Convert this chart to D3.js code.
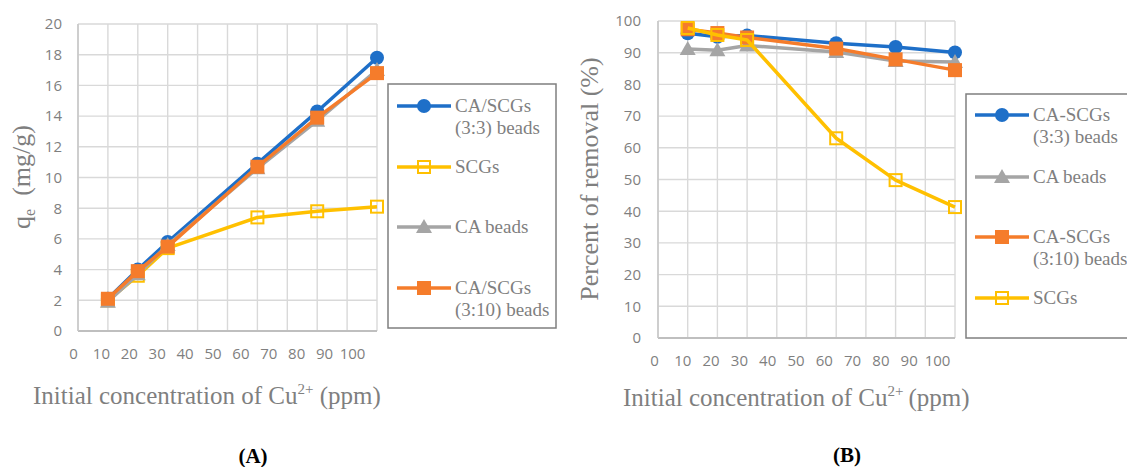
<!DOCTYPE html>
<html>
<head>
<meta charset="utf-8">
<script src="https://cdn.jsdelivr.net/npm/d3@7"></script>
<style>
  body { margin: 0; background: #fff; }
  svg { display: block; }
</style>
</head>
<body>
<svg id="chart" width="1127" height="467"></svg>
<script>
// concentrations (ppm)
var conc = [10, 20, 30, 60, 80, 100];
var xTicks = [0, 10, 20, 30, 40, 50, 60, 70, 80, 90, 100];

// panel A : qe (mg/g)
var qeCA_SCG33 = [2.1, 4.0, 5.8, 10.9, 14.3, 17.8];
var qeSCG = [2.0, 3.6, 5.4, 7.4, 7.8, 8.1];
var qeCA = [1.9, 3.7, 5.6, 10.6, 13.7, 17.0];
var qeCA_SCG310 = [2.1, 3.9, 5.5, 10.7, 13.9, 16.8];
var qeTicks = [0, 2, 4, 6, 8, 10, 12, 14, 16, 18, 20];

// panel B : percent of removal
var remCA_SCG33 = [96.1, 95.0, 95.4, 93.0, 91.8, 90.1];
var remCA = [91.2, 90.8, 92.3, 90.2, 87.4, 87.1];
var remCA_SCG310 = [97.4, 96.2, 94.8, 91.3, 87.9, 84.5];
var remSCG = [97.8, 95.6, 94.0, 63.0, 49.8, 41.3];
var remTicks = [0, 10, 20, 30, 40, 50, 60, 70, 80, 90, 100];

var colors = { blue: '#1e6fc8', yellow: '#ffc000', gray: '#a5a5a5', orange: '#f57c2b' };

var svg = d3.select('#chart');
var serif = "'Liberation Serif', 'Times New Roman', serif";
var sans = "'Open Sans', 'Noto Sans', sans-serif";

var seriesA = [
    { name: ['CA/SCGs', '(3:3) beads'], values: qeCA_SCG33, color: colors.blue, marker: 'circle' },
    { name: ['SCGs'], values: qeSCG, color: colors.yellow, marker: 'open' },
    { name: ['CA beads'], values: qeCA, color: colors.gray, marker: 'triangle' },
    { name: ['CA/SCGs', '(3:10) beads'], values: qeCA_SCG310, color: colors.orange, marker: 'square' }
];
var seriesB = [
    { name: ['CA-SCGs', '(3:3) beads'], values: remCA_SCG33, color: colors.blue, marker: 'circle' },
    { name: ['CA beads'], values: remCA, color: colors.gray, marker: 'triangle' },
    { name: ['CA-SCGs', '(3:10) beads'], values: remCA_SCG310, color: colors.orange, marker: 'square' },
    { name: ['SCGs'], values: remSCG, color: colors.yellow, marker: 'open' }
];

function drawMarker(g, type, cx, cy, color) {
    if (type === 'circle') {
        g.append('circle').attr('cx', cx).attr('cy', cy).attr('r', 7).attr('fill', color);
    } else if (type === 'square') {
        g.append('rect').attr('x', cx - 7).attr('y', cy - 7).attr('width', 14).attr('height', 14).attr('fill', color);
    } else if (type === 'triangle') {
        g.append('path').attr('d', 'M' + cx + ',' + (cy - 8) + 'L' + (cx + 8) + ',' + (cy + 6) + 'L' + (cx - 8) + ',' + (cy + 6) + 'Z')
            .attr('fill', color);
    } else {
        g.append('rect').attr('x', cx - 6).attr('y', cy - 6).attr('width', 12).attr('height', 12)
            .attr('fill', 'none').attr('stroke', color).attr('stroke-width', 2);
    }
}

function drawPanel(opt) {
    var x = d3.scaleLinear().domain([0, 100]).range(opt.xRange);
    var xl = d3.scaleLinear().domain([0, 100]).range(opt.labelRange);
    var y = d3.scaleLinear().domain([0, opt.yTicks[opt.yTicks.length - 1]]).range(opt.yRange);
    var g = svg.append('g');

    // grid
    g.append('g').selectAll('line').data(xTicks).enter().append('line')
        .attr('x1', function(d) { return x(d); }).attr('x2', function(d) { return x(d); })
        .attr('y1', y.range()[0]).attr('y2', y.range()[1])
        .attr('stroke', '#d9d9d9').attr('stroke-width', 1.4);
    g.append('g').selectAll('line').data(opt.yTicks).enter().append('line')
        .attr('x1', x(0)).attr('x2', x(100))
        .attr('y1', function(d) { return y(d); }).attr('y2', function(d) { return y(d); })
        .attr('stroke', '#d9d9d9').attr('stroke-width', 1.4);
    // axis lines
    g.append('line').attr('x1', x(0)).attr('x2', x(100)).attr('y1', y(0)).attr('y2', y(0))
        .attr('stroke', '#bfbfbf').attr('stroke-width', 2);
    g.append('line').attr('x1', x(0)).attr('x2', x(0)).attr('y1', y(0)).attr('y2', y.range()[1])
        .attr('stroke', '#c8c8c8').attr('stroke-width', 1.6);

    // y axis labels
    var yAxis = d3.axisLeft(y).tickValues(opt.yTicks).tickSize(0).tickPadding(0);
    var ya = g.append('g').attr('transform', 'translate(' + (x(0) - opt.yLabelGap) + ',0)').call(yAxis);
    ya.select('.domain').remove();
    ya.selectAll('text').attr('font-family', sans).attr('font-size', 15).attr('fill', '#7f7f7f');

    // x axis labels (offset as in the original)
    var xAxis = d3.axisBottom(xl).tickValues(xTicks).tickSize(0).tickPadding(0);
    var xa = g.append('g').attr('transform', 'translate(0,' + opt.xLabelY + ')').call(xAxis);
    xa.select('.domain').remove();
    xa.selectAll('text').attr('font-family', sans).attr('font-size', 15).attr('fill', '#7f7f7f');

    // series
    var line = d3.line().x(function(d, i) { return x(conc[i]); }).y(function(d) { return y(d); });
    opt.series.forEach(function(s) {
        var sg = g.append('g');
        sg.append('path').attr('d', line(s.values)).attr('fill', 'none')
            .attr('stroke', s.color).attr('stroke-width', 3.5).attr('stroke-linejoin', 'round');
        s.values.forEach(function(v, i) {
            drawMarker(sg, s.marker, x(conc[i]), y(v), s.color);
        });
    });

    // legend
    var lg = g.append('g');
    lg.append('rect').attr('x', opt.legend.x).attr('y', opt.legend.y)
        .attr('width', opt.legend.w).attr('height', opt.legend.h)
        .attr('fill', '#fff').attr('stroke', '#7f7f7f').attr('stroke-width', 1.5);
    opt.series.forEach(function(s, i) {
        var ly = opt.legend.rows[i];
        var lx = opt.legend.x + 9;
        lg.append('line').attr('x1', lx).attr('x2', lx + 54).attr('y1', ly).attr('y2', ly)
            .attr('stroke', s.color).attr('stroke-width', 3.5);
        drawMarker(lg, s.marker, lx + 27, ly, s.color);
        var t = lg.append('text').attr('x', lx + 58).attr('y', ly + 6)
            .attr('font-family', serif).attr('font-size', 19).attr('fill', '#7f7f7f');
        s.name.forEach(function(n, j) {
            t.append('tspan').attr('x', lx + 58).attr('dy', j === 0 ? 0 : 22).text(n);
        });
    });

    // x title
    var xt = g.append('text').attr('x', opt.xTitle[0]).attr('y', opt.xTitle[1])
        .attr('font-family', serif).attr('font-size', 25).attr('fill', '#7f7f7f');
    xt.append('tspan').text('Initial concentration of Cu');
    xt.append('tspan').attr('font-size', 15).attr('dy', -10).text('2+');
    xt.append('tspan').attr('dy', 10).text(opt.xTitleGap + '(ppm)');

    // y title
    var yt = g.append('text').attr('transform', 'translate(' + opt.yTitle[0] + ',' + opt.yTitle[1] + ') rotate(-90)')
        .attr('text-anchor', 'middle').attr('font-family', serif).attr('font-size', opt.yTitleSize).attr('fill', '#7f7f7f');
    opt.yTitleParts(yt);

    // panel letter
    g.append('text').attr('x', opt.letter[0]).attr('y', opt.letter[1]).attr('text-anchor', 'middle')
        .attr('font-family', serif).attr('font-size', 21).attr('font-weight', 'bold').attr('fill', '#000')
        .text(opt.letterText);
}

drawPanel({
    xRange: [78, 377], labelRange: [73, 352], yRange: [331, 24], yTicks: qeTicks,
    yLabelGap: 16, xLabelY: 348, series: seriesA,
    legend: { x: 388, y: 84, w: 168, h: 244, rows: [106, 167, 227, 288] },
    xTitle: [33, 404], xTitleGap: ' ',
    yTitle: [30, 177], yTitleSize: 26,
    yTitleParts: function(t) {
        t.append('tspan').text('q');
        t.append('tspan').attr('font-size', 16).attr('dy', 5).text('e');
        t.append('tspan').attr('dy', -5).text('\u00a0 (mg/g)');
    },
    letter: [253, 463], letterText: '(A)'
});

drawPanel({
    xRange: [658, 955], labelRange: [654, 937], yRange: [338, 21], yTicks: remTicks,
    yLabelGap: 17, xLabelY: 355, series: seriesB,
    legend: { x: 966, y: 94, w: 170, h: 244, rows: [115, 177, 237, 298] },
    xTitle: [623, 406], xTitleGap: '\u2009',
    yTitle: [598, 179], yTitleSize: 26,
    yTitleParts: function(t) { t.text('Percent of removal (%)'); },
    letter: [847, 462], letterText: '(B)'
});
</script>
</body>
</html>
